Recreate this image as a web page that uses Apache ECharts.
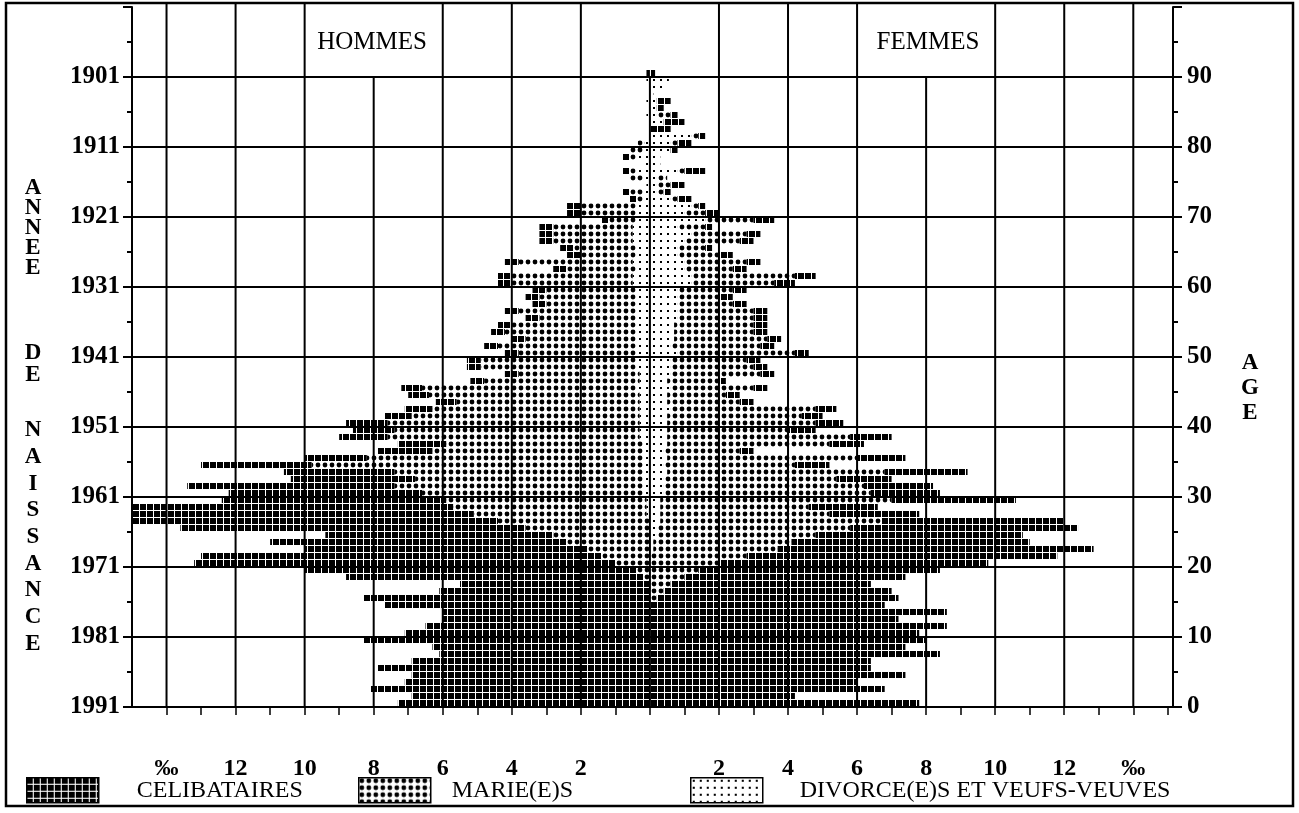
<!DOCTYPE html>
<html>
<head>
<meta charset="utf-8">
<script src="https://cdn.jsdelivr.net/npm/echarts@6/dist/echarts.min.js"></script>
<style>
  html, body { margin: 0; padding: 0; background: #fff; }
  #chart { width: 1299px; height: 813px; }
</style>
</head>
<body>
<div id="chart"></div>
<script>
// Population pyramid by marital status, per mille of total population.
// Index of every array = age in completed years (0 .. 90).

const menSingle = [
  7.3, 6.9, 8.1, 7.1, 6.9, 7.9, 6.9, 6.1, 6.3, 8.3,
  7.1, 6.5, 6.0, 6.0, 7.7, 8.3, 6.1, 5.5, 8.6, 9.6,
  12.2, 11.6, 8.2, 8.6, 6.6, 10.0, 10.6, 9.9, 9.3, 6.5,
  5.6, 6.0, 3.6, 3.2, 3.2, 1.8, 1.6, 1.4, 1.4, 1.2,
  1.2, 0.8, 0.8, 0.6, 0.6, 0.6, 0.4, 0.4, 0.4, 0.4,
  0.4, 0.4, 0.4, 0.4, 0.4, 0.4, 0.4, 0.4, 0.4, 0.4,
  0.4, 0.4, 0.4, 0.4, 0.4, 0.4, 0.4, 0.4, 0.4, 0.2,
  0.4, 0.4, 0.2, 0.2, 0, 0, 0.2, 0, 0.2, 0,
  0, 0, 0, 0, 0, 0, 0, 0, 0, 0,
  0.1
];
const menMarried = [
  0, 0, 0, 0, 0, 0, 0, 0, 0, 0,
  0, 0, 0, 0, 0, 0, 0, 0, 0.2, 0.4,
  1.0, 1.4, 1.8, 2.4, 2.8, 3.6, 4.4, 5.0, 5.6, 5.8,
  6.4, 7.2, 6.6, 7.2, 9.6, 8.0, 6.1, 5.7, 7.3, 7.1,
  7.3, 6.6, 6.0, 5.3, 6.1, 6.2, 4.5, 3.5, 4.5, 4.5,
  3.4, 4.0, 3.2, 3.8, 3.6, 2.8, 3.4, 2.6, 2.8, 2.6,
  3.5, 3.5, 2.0, 3.3, 1.6, 1.8, 2.3, 2.3, 2.3, 0.8,
  1.6, 1.6, 0.2, 0.4, 0, 0.4, 0.2, 0, 0.2, 0.4,
  0.2, 0, 0, 0, 0, 0, 0, 0, 0, 0,
  0
];
const menWidowedDivorced = [
  0, 0, 0, 0, 0, 0, 0, 0, 0, 0,
  0, 0, 0, 0, 0, 0, 0, 0, 0, 0,
  0, 0, 0, 0, 0, 0, 0, 0.1, 0.1, 0.1,
  0.2, 0.2, 0.2, 0.2, 0.2, 0.2, 0.2, 0.2, 0.3, 0.3,
  0.3, 0.3, 0.3, 0.3, 0.3, 0.4, 0.3, 0.3, 0.4, 0.4,
  0.4, 0.4, 0.4, 0.4, 0.4, 0.4, 0.4, 0.4, 0.4, 0.4,
  0.5, 0.5, 0.4, 0.5, 0.4, 0.4, 0.5, 0.5, 0.5, 0.4,
  0.4, 0.4, 0.2, 0.2, 0.1, 0.2, 0.4, 0.15, 0.4, 0.2,
  0.15, 0, 0, 0, 0.1, 0, 0.1, 0, 0, 0.1,
  0
];

const womenSingle = [
  7.8, 4.2, 6.8, 6.0, 7.4, 6.4, 6.4, 8.4, 7.4, 8.0,
  7.8, 8.6, 7.2, 8.6, 6.8, 7.0, 6.6, 5.8, 6.4, 7.0,
  7.8, 9.0, 9.15, 6.9, 6.0, 6.6, 5.3, 2.6, 2.0, 3.6,
  2.0, 2.0, 1.6, 2.4, 1.0, 1.4, 0.4, 1.0, 1.2, 0.8,
  0.8, 0.6, 0.6, 0.4, 0.4, 0.4, 0.2, 0.4, 0.4, 0.4,
  0.4, 0.4, 0.4, 0.4, 0.4, 0.4, 0.4, 0.4, 0.4, 0.4,
  0.6, 0.6, 0.4, 0.4, 0.4, 0.2, 0.4, 0.4, 0.2, 0.6,
  0.4, 0.2, 0.4, 0.2, 0.4, 0, 0.6, 0, 0, 0.2,
  0.4, 0.2, 0.6, 0.6, 0.2, 0.2, 0.4, 0, 0, 0,
  0.15
];
const womenMarried = [
  0, 0, 0, 0, 0, 0, 0, 0, 0, 0,
  0, 0, 0, 0, 0, 0.2, 0.4, 0.6, 1.0, 1.4,
  2.0, 2.8, 3.6, 4.0, 4.6, 5.6, 6.4, 4.9, 4.3, 6.7,
  6.0, 5.8, 5.0, 6.3, 3.8, 5.5, 2.2, 4.7, 5.3, 3.5,
  4.3, 3.9, 4.2, 2.1, 1.7, 2.4, 1.5, 2.6, 2.4, 2.2,
  3.4, 2.6, 2.7, 2.3, 2.3, 2.2, 2.2, 1.6, 1.2, 1.6,
  2.4, 3.0, 1.4, 1.8, 1.2, 0.8, 1.6, 1.6, 0.8, 1.4,
  0.6, 0.2, 0.2, 0.2, 0.4, 0.3, 0.2, 0, 0, 0,
  0.2, 0.2, 0, 0, 0.4, 0, 0, 0, 0, 0,
  0
];
const womenWidowedDivorced = [
  0, 0, 0, 0, 0, 0, 0, 0, 0, 0,
  0, 0, 0, 0, 0, 0, 0, 0, 0, 0,
  0, 0, 0.1, 0.1, 0.2, 0.2, 0.3, 0.3, 0.3, 0.3,
  0.4, 0.4, 0.4, 0.5, 0.4, 0.5, 0.4, 0.5, 0.5, 0.5,
  0.5, 0.5, 0.6, 0.5, 0.5, 0.6, 0.5, 0.6, 0.6, 0.6,
  0.8, 0.6, 0.7, 0.7, 0.7, 0.8, 0.8, 0.8, 0.8, 0.8,
  1.2, 1.2, 1.0, 1.0, 0.8, 0.8, 1.0, 1.2, 0.8, 1.6,
  1.0, 1.2, 0.6, 0.2, 0.2, 0.2, 0.8, 0.3, 0.3, 0.6,
  0.6, 1.2, 0, 0.4, 0.2, 0.2, 0.2, 0.1, 0.35, 0.55,
  0
];

// Axis ticks and their texts
const ageTicks = [0, 10, 20, 30, 40, 50, 60, 70, 80, 90];
const ageLabels = ['0', '10', '20', '30', '40', '50', '60', '70', '80', '90'];
const birthYearLabels = ['1991', '1981', '1971', '1961', '1951', '1941', '1931', '1921', '1911', '1901'];
const rateTicks = [-14, -12, -10, -8, -6, -4, -2, 2, 4, 6, 8, 10, 12, 14];
const rateLabels = ['\u2030', '12', '10', '8', '6', '4', '2', '2', '4', '6', '8', '10', '12', '\u2030'];

// Reference lines of the frame
const fullGridX = [-14, -12, -10, -6, -4, -2, 2, 4, 6, 10, 12, 14];
const shortGridX = [-8, 0, 8];
const gridAges = [10, 20, 30, 40, 50, 60, 70, 80, 90];

const legendNames = ['CELIBATAIRES', 'MARIE(E)S', 'DIVORCE(E)S ET VEUFS-VEUVES'];

const SERIF = '"Liberation Serif", "Times New Roman", serif';
const AGE_MAX = 100;
const X_MIN = -15, X_MAX = 15.15;

// 7x7 halftone tiles, one per marital status
function makeTile(draw) {
  const c = document.createElement('canvas');
  c.width = 7; c.height = 7;
  const ctx = c.getContext('2d');
  ctx.fillStyle = '#000';
  draw(ctx);
  return { image: c, repeat: 'repeat' };
}
const fillSingle = makeTile(ctx => ctx.fillRect(0, 0, 6, 6));
const fillMarried = makeTile(ctx => { ctx.beginPath(); ctx.arc(3, 3, 2.4, 0, Math.PI * 2); ctx.fill(); });
const fillWidowed = makeTile(ctx => ctx.fillRect(2, 2, 2, 2));

// Stack from the centre outward: widowed/divorced, married, single
function bands(sign) {
  const single = sign < 0 ? menSingle : womenSingle;
  const married = sign < 0 ? menMarried : womenMarried;
  const widowed = sign < 0 ? menWidowedDivorced : womenWidowedDivorced;
  const out = { single: [], married: [], widowed: [] };
  for (let age = 0; age < single.length; age++) {
    const a = widowed[age], b = a + married[age], c = b + single[age];
    out.widowed.push([0, sign * a, age]);
    out.married.push([sign * a, sign * b, age]);
    out.single.push([sign * b, sign * c, age]);
  }
  return out;
}
const menBands = bands(-1);
const womenBands = bands(1);

function bandRenderer(fill) {
  return function (params, api) {
    const x0 = api.value(0), x1 = api.value(1), age = api.value(2);
    if (Math.abs(x1 - x0) < 1e-9) return null;
    const p0 = api.coord([x0, age + 1]);
    const p1 = api.coord([x1, age]);
    return {
      type: 'rect',
      shape: {
        x: Math.min(p0[0], p1[0]),
        y: p0[1],
        width: Math.abs(p1[0] - p0[0]),
        height: p1[1] - p0[1]
      },
      style: { fill: fill }
    };
  };
}

function barSeries(name, fill, data) {
  return {
    type: 'custom',
    name: name,
    renderItem: bandRenderer(fill),
    data: data,
    encode: { x: [0, 1], y: 2 },
    itemStyle: { color: fill },
    z: 2,
    silent: true
  };
}

// Grid lines drawn above the halftone bars
const gridLineData = [];
fullGridX.forEach(x => gridLineData.push([x, 0, x, AGE_MAX + 0.5]));
shortGridX.forEach(x => gridLineData.push([x, 0, x, 90]));
gridAges.forEach(a => gridLineData.push([X_MIN, a, X_MAX, a]));

const gridSeries = {
  type: 'custom',
  name: 'grid',
  data: gridLineData,
  encode: { x: [0, 2], y: [1, 3] },
  z: 4,
  silent: true,
  clip: false,
  renderItem: function (params, api) {
    const p0 = api.coord([api.value(0), api.value(1)]);
    const p1 = api.coord([api.value(2), api.value(3)]);
    return {
      type: 'line',
      shape: { x1: p0[0], y1: p0[1], x2: p1[0], y2: p1[1] },
      style: { stroke: '#000', lineWidth: 2 }
    };
  }
};

function pickLabel(ticks, labels) {
  return function (v) {
    for (let i = 0; i < ticks.length; i++) {
      if (Math.abs(ticks[i] - v) < 1e-6) return labels[i];
    }
    return '';
  };
}

function ageAxis(position, labels, margin) {
  return {
    type: 'value',
    position: position,
    min: 0,
    max: AGE_MAX,
    interval: 10,
    z: 5,
    axisLine: { show: true, onZero: false, lineStyle: { color: '#000', width: 2 } },
    axisTick: { show: true, inside: false, length: 9, lineStyle: { color: '#000', width: 2 } },
    minorTick: { show: true, splitNumber: 2, length: 5, lineStyle: { color: '#000', width: 2 } },
    splitLine: { show: false },
    axisLabel: {
      margin: margin,
      color: '#000',
      fontFamily: SERIF,
      fontWeight: 'bold',
      fontSize: 25,
      formatter: pickLabel(ageTicks, labels)
    }
  };
}

function legendBlock(name, left, gap) {
  return {
    data: [name],
    left: left,
    top: 772,
    orient: 'horizontal',
    icon: 'rect',
    itemWidth: 72,
    itemHeight: 25,
    selectedMode: false,
    itemStyle: { borderColor: '#000', borderWidth: 1.5 },
    textStyle: {
      color: '#000',
      fontFamily: SERIF,
      fontSize: 24,
      padding: [0, 0, 0, gap]
    }
  };
}

const chart = echarts.init(document.getElementById('chart'), null, { renderer: 'canvas' });

chart.setOption({
  animation: false,
  backgroundColor: '#fff',
  grid: { left: 132, right: 126, top: 707 - 7 * AGE_MAX, bottom: 106, containLabel: false },
  xAxis: {
    type: 'value',
    min: X_MIN,
    max: X_MAX,
    interval: 1,
    z: 5,
    axisLine: { show: true, onZero: false, lineStyle: { color: '#000', width: 2 } },
    axisTick: { show: true, inside: false, length: 8, lineStyle: { color: '#000', width: 1.5 } },
    splitLine: { show: false },
    axisLabel: {
      margin: 50,
      color: '#000',
      fontFamily: SERIF,
      fontWeight: 'bold',
      fontSize: 24,
      showMinLabel: false,
      showMaxLabel: false,
      formatter: pickLabel(rateTicks, rateLabels)
    }
  },
  yAxis: [
    ageAxis('left', birthYearLabels, 12),
    ageAxis('right', ageLabels, 14)
  ],
  legend: [
    legendBlock(legendNames[0], 21, 33),
    legendBlock(legendNames[1], 353, 16),
    legendBlock(legendNames[2], 685, 32)
  ],
  series: [
    barSeries(legendNames[2], fillWidowed, menBands.widowed.concat(womenBands.widowed)),
    barSeries(legendNames[1], fillMarried, menBands.married.concat(womenBands.married)),
    barSeries(legendNames[0], fillSingle, menBands.single.concat(womenBands.single)),
    gridSeries
  ],
  graphic: [
    {
      type: 'rect', z: 10, silent: true,
      shape: { x: 6, y: 3, width: 1287, height: 803 },
      style: { fill: 'none', stroke: '#000', lineWidth: 2.5 }
    },
    {
      type: 'text', z: 10, silent: true, x: 372, y: 42,
      style: { text: 'HOMMES', fill: '#000', font: '25px ' + SERIF, align: 'center', verticalAlign: 'middle' }
    },
    {
      type: 'text', z: 10, silent: true, x: 928, y: 42,
      style: { text: 'FEMMES', fill: '#000', font: '25px ' + SERIF, align: 'center', verticalAlign: 'middle' }
    },
    {
      type: 'text', z: 10, silent: true, x: 33, y: 178,
      style: { text: 'A\nN\nN\nE\nE', fill: '#000', font: 'bold 23px ' + SERIF, lineHeight: 20, align: 'center', verticalAlign: 'top' }
    },
    {
      type: 'text', z: 10, silent: true, x: 33, y: 342,
      style: { text: 'D\nE', fill: '#000', font: 'bold 23px ' + SERIF, lineHeight: 22, align: 'center', verticalAlign: 'top' }
    },
    {
      type: 'text', z: 10, silent: true, x: 33, y: 417,
      style: { text: 'N\nA\nI\nS\nS\nA\nN\nC\nE', fill: '#000', font: 'bold 23px ' + SERIF, lineHeight: 26.7, align: 'center', verticalAlign: 'top' }
    },
    {
      type: 'text', z: 10, silent: true, x: 1250, y: 351,
      style: { text: 'A\nG\nE', fill: '#000', font: 'bold 23px ' + SERIF, lineHeight: 25, align: 'center', verticalAlign: 'top' }
    }
  ]
});
</script>
</body>
</html>
